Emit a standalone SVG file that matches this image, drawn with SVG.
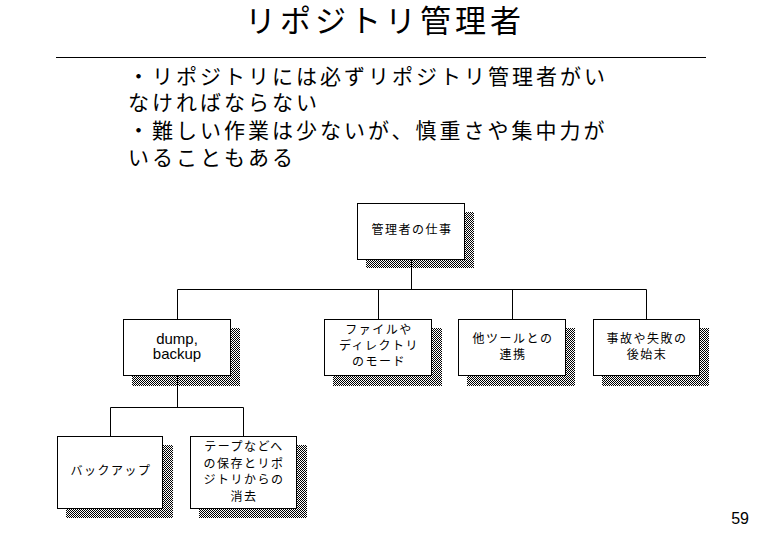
<svg xmlns="http://www.w3.org/2000/svg" width="758" height="536" viewBox="0 0 758 536">
<defs>
<pattern id="dots" patternUnits="userSpaceOnUse" width="2" height="2">
<rect x="0" y="0" width="1" height="1" fill="#000"/>
<rect x="1" y="1" width="1" height="1" fill="#000"/>
</pattern>
<style>
.jp{font-family:"Noto Sans CJK JP","Noto Sans CJK SC",sans-serif;fill:#000}
.title{font-size:31px;letter-spacing:4px}
.body{font-size:21px;letter-spacing:3px}
.node{font-size:12px;letter-spacing:1.5px}
.lat{font-family:"Liberation Sans",Arial,sans-serif;fill:#000}
.box{fill:#fff;stroke:#000;stroke-width:1}
.shadow{fill:url(#dots)}
.conn{fill:none;stroke:#000;stroke-width:1}
</style>
</defs>
<rect width="758" height="536" fill="#fff"/>
<text class="jp title" x="385" y="32" text-anchor="middle">リポジトリ管理者</text>
<line x1="56" y1="57.5" x2="706" y2="57.5" stroke="#000" stroke-width="1"/>
<g id="bullets" class="jp body">
<text x="128" y="84">・リポジトリには必ずリポジトリ管理者がい</text>
<text x="128" y="110">なければならない</text>
<text x="128" y="138">・難しい作業は少ないが、慎重さや集中力が</text>
<text x="128" y="165">いることもある</text>
</g>
<g id="connectors" class="conn">
<path d="M411.5 259 V289.5 M177.5 319 V289.5 H646.5 V319 M378.5 289.5 V319 M512.5 289.5 V319"/>
<path d="M177.5 376 V407.5 M110.5 436 V407.5 H243.5 V436"/>
</g>
<g id="root">
<rect class="shadow" x="366" y="212" width="108" height="56"/>
<rect class="box" x="357.5" y="203.5" width="107" height="56"/>
<text class="jp node" x="412" y="234" text-anchor="middle">管理者の仕事</text>
</g>
<g id="dump">
<rect class="shadow" x="132" y="328" width="108" height="58"/>
<rect class="box" x="123.5" y="319.5" width="107" height="56"/>
<text class="lat" font-size="15" x="177" y="344" text-anchor="middle">dump,</text>
<text class="lat" font-size="15" x="177" y="359" text-anchor="middle">backup</text>
</g>
<g id="filemode">
<rect class="shadow" x="333" y="328" width="109" height="58"/>
<rect class="box" x="324.5" y="319.5" width="107" height="56"/>
<text class="jp node" x="379" y="334" text-anchor="middle">ファイルや</text>
<text class="jp node" x="379" y="350" text-anchor="middle" letter-spacing="3">ディレクトリ</text>
<text class="jp node" x="379" y="366" text-anchor="middle">のモード</text>
</g>
<g id="tools">
<rect class="shadow" x="467" y="328" width="108" height="58"/>
<rect class="box" x="458.5" y="319.5" width="107" height="56"/>
<text class="jp node" x="513" y="343" text-anchor="middle">他ツールとの</text>
<text class="jp node" x="513" y="359" text-anchor="middle">連携</text>
</g>
<g id="accident">
<rect class="shadow" x="602" y="328" width="107" height="58"/>
<rect class="box" x="593.5" y="319.5" width="106" height="56"/>
<text class="jp node" x="647" y="343" text-anchor="middle">事故や失敗の</text>
<text class="jp node" x="647" y="359" text-anchor="middle">後始末</text>
</g>
<g id="backup">
<rect class="shadow" x="66" y="445" width="107" height="73"/>
<rect class="box" x="57.5" y="436.5" width="105" height="72"/>
<text class="jp node" x="111" y="475" text-anchor="middle">バックアップ</text>
</g>
<g id="tape">
<rect class="shadow" x="199" y="445" width="108" height="73"/>
<rect class="box" x="190.5" y="436.5" width="106" height="72"/>
<text class="jp node" x="244" y="451" text-anchor="middle">テープなどへ</text>
<text class="jp node" x="244" y="468" text-anchor="middle">の保存とリポ</text>
<text class="jp node" x="244" y="484" text-anchor="middle">ジトリからの</text>
<text class="jp node" x="244" y="501" text-anchor="middle">消去</text>
</g>
<text class="lat" font-size="16" x="749" y="524" text-anchor="end">59</text>
</svg>
